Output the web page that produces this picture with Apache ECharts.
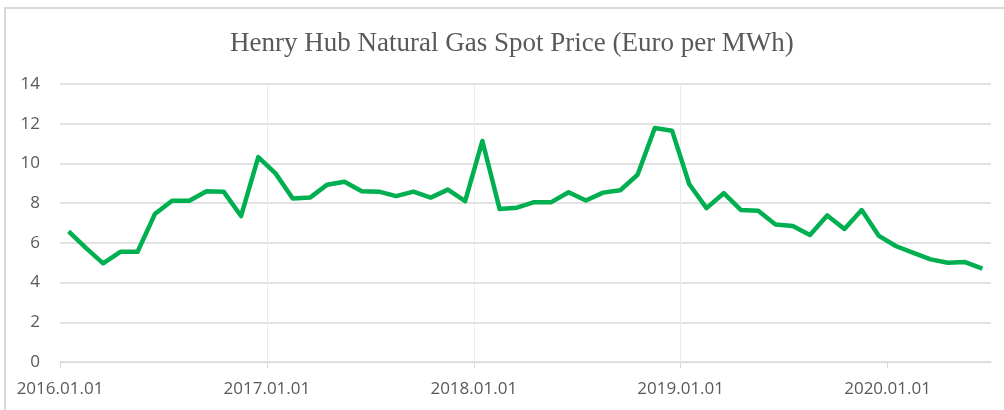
<!DOCTYPE html>
<html>
<head>
<meta charset="utf-8">
<script src="https://cdn.jsdelivr.net/npm/echarts@6/dist/echarts.min.js"></script>
<style>
  html, body { margin: 0; padding: 0; background: #fff; }
  #chart { width: 1004px; height: 410px; }
</style>
</head>
<body>
<div id="chart"></div>
<script>
// monthly Henry Hub spot price, Jan 2016 .. Jun 2020 (EUR/MWh)
const months = [
  '2016.01', '2016.02', '2016.03', '2016.04', '2016.05', '2016.06',
  '2016.07', '2016.08', '2016.09', '2016.10', '2016.11', '2016.12',
  '2017.01', '2017.02', '2017.03', '2017.04', '2017.05', '2017.06',
  '2017.07', '2017.08', '2017.09', '2017.10', '2017.11', '2017.12',
  '2018.01', '2018.02', '2018.03', '2018.04', '2018.05', '2018.06',
  '2018.07', '2018.08', '2018.09', '2018.10', '2018.11', '2018.12',
  '2019.01', '2019.02', '2019.03', '2019.04', '2019.05', '2019.06',
  '2019.07', '2019.08', '2019.09', '2019.10', '2019.11', '2019.12',
  '2020.01', '2020.02', '2020.03', '2020.04', '2020.05', '2020.06'
]
const prices = [
  6.58, 5.75, 4.97, 5.55, 5.55, 7.45, 8.12, 8.12, 8.6, 8.57, 7.35, 10.32,
  9.5, 8.23, 8.28, 8.93, 9.08, 8.6, 8.58, 8.35, 8.58, 8.28, 8.68, 8.1,
  11.13, 7.7, 7.77, 8.05, 8.05, 8.55, 8.13, 8.53, 8.65, 9.43, 11.78, 11.65,
  8.95, 7.75, 8.5, 7.65, 7.62, 6.93, 6.85, 6.4, 7.38, 6.7, 7.65, 6.35,
  5.83, 5.5, 5.17, 5.0, 5.03, 4.7
]
const yearTicks = ['2016.01.01', '2017.01.01', '2018.01.01', '2019.01.01', '2020.01.01']

const chart = echarts.init(document.getElementById('chart'))

// each month sits in the middle of its slot, year ticks on slot boundaries
const points = prices.map((v, i) => [i + 0.5, v])
const tickPos = yearTicks.map((_, i) => i * 12)

chart.setOption({
  animation: false,
  backgroundColor: '#fff',
  title: {
    text: 'Henry Hub Natural Gas Spot Price (Euro per MWh)',
    left: 225,
    top: 25,
    textStyle: {
      fontFamily: 'Liberation Serif',
      fontWeight: 'normal',
      fontSize: 27,
      color: '#595959'
    }
  },
  graphic: [{
    type: 'rect',
    shape: { x: 5, y: 8, width: 1010, height: 420 },
    style: { fill: 'none', stroke: '#d9d9d9', lineWidth: 2 },
    silent: true
  }],
  grid: { left: 60, right: 13, top: 84, bottom: 48 },
  xAxis: {
    type: 'value',
    min: 0,
    max: months.length,
    interval: 12,
    axisLine: { show: true, lineStyle: { color: '#d9d9d9', width: 1 } },
    axisTick: { show: true, length: 6, customValues: tickPos, lineStyle: { color: '#d9d9d9' } },
    axisLabel: {
      customValues: tickPos,
      formatter: v => yearTicks[Math.round(v / 12)] || '',
      color: '#595959',
      fontFamily: 'Open Sans',
      fontSize: 17,
      margin: 19
    },
    splitLine: {
      show: true,
      showMinLine: false,
      showMaxLine: false,
      lineStyle: { color: '#ececec', width: 1 }
    }
  },
  yAxis: {
    type: 'value',
    min: 0,
    max: 14,
    interval: 2,
    axisLine: { show: false },
    axisTick: { show: false },
    axisLabel: {
      color: '#595959',
      fontFamily: 'Open Sans',
      fontSize: 17,
      margin: 20
    },
    splitLine: { lineStyle: { color: '#d9d9d9', width: 1.5 } }
  },
  series: [{
    type: 'line',
    data: points,
    showSymbol: false,
    lineStyle: { color: '#00b050', width: 4.5, join: 'round' },
    itemStyle: { color: '#00b050' }
  }]
})
</script>
</body>
</html>
